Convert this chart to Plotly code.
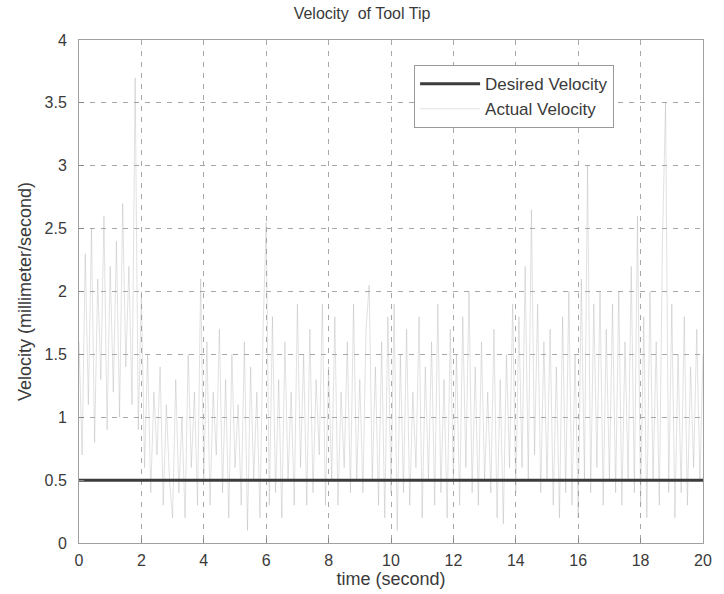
import numpy as np
import plotly.graph_objects as go

time_s = [round(0.1 * i, 1) for i in range(201)]
actual_velocity = [
    1.6, 0.7, 2.3, 1.1, 2.5, 0.8, 2.1, 1.3, 2.6, 0.9, 2.2,
    1.2, 2.4, 1.0, 2.7, 1.4, 2.2, 1.1, 3.7, 0.9, 2.0,
    0.6, 1.5, 0.4, 1.2, 0.7, 1.4, 0.3, 1.1, 0.5, 0.2,
    1.3, 0.4, 1.0, 0.2, 1.5, 0.6, 1.2, 0.3, 2.1, 0.5,
    1.6, 0.3, 1.2, 0.7, 1.7, 0.4, 1.3, 0.2, 1.5, 0.6,
    1.1, 0.3, 1.6, 0.1, 1.4, 0.5, 1.2, 0.2, 1.7, 2.55,
    0.3, 1.8, 0.4, 1.3, 0.2, 1.6, 0.5, 1.2, 0.3, 1.9,
    0.6, 1.5, 0.3, 1.7, 0.4, 1.3, 0.7, 1.9, 0.3, 1.4,
    0.5, 1.8, 0.3, 1.2, 0.6, 1.6, 0.4, 1.9, 0.5, 1.3,
    0.4, 1.7, 2.05, 0.5, 1.4, 0.3, 1.6, 0.2, 1.8, 0.4,
    1.9, 0.1, 1.5, 0.4, 1.7, 0.3, 1.2, 0.6, 1.8, 0.2,
    1.4, 0.5, 1.6, 0.3, 1.9, 0.4, 1.3, 0.2, 1.7, 0.5,
    1.5, 0.3, 1.8, 0.6, 2.0, 0.4, 1.4, 0.3, 1.6, 0.5,
    1.2, 0.4, 1.7, 0.2, 1.3, 0.15, 1.5, 0.6, 1.9, 0.4,
    1.8, 0.6, 2.2, 0.5, 2.65, 0.7, 1.9, 0.4, 1.6, 0.5,
    1.7, 0.3, 1.4, 0.2, 1.8, 0.4, 2.0, 0.3, 1.5, 0.2,
    2.1, 0.5, 3.0, 0.4, 1.9, 0.6, 2.0, 0.3, 1.7, 0.5,
    1.9, 0.4, 2.0, 0.3, 1.6, 0.5, 2.2, 0.4, 2.6, 0.3,
    1.8, 0.2, 2.0, 0.5, 1.6, 0.3, 2.4, 3.5, 0.4, 1.9,
    0.2, 1.5, 0.4, 1.8, 0.3, 1.4, 0.6, 1.7, 0.5, 1.5,
]
desired_t = [0, 20]
desired_velocity = [0.5, 0.5]

x_ticks = [0, 2, 4, 6, 8, 10, 12, 14, 16, 18, 20]
y_ticks = [0, 0.5, 1, 1.5, 2, 2.5, 3, 3.5, 4]

FONT = "Liberation Sans, Arial, sans-serif"
TXT = "#3a3a3a"

fig = go.Figure()
fig.add_trace(go.Scatter(x=time_s, y=actual_velocity, mode="lines",
                         name="Actual Velocity",
                         line=dict(color="rgba(160,160,160,0.45)", width=0.7)))
fig.add_trace(go.Scatter(x=desired_t, y=desired_velocity, mode="lines",
                         name="Desired Velocity",
                         line=dict(color="#3c3c3c", width=3)))

axis_common = dict(showline=True, mirror=True, linecolor="#a0a0a0", linewidth=1,
                   showgrid=True, gridcolor="#a8a8a8", griddash="5px,6px", gridwidth=0.8,
                   ticks="inside", ticklen=5, tickcolor="#888888",
                   zeroline=False, tickfont=dict(family=FONT, size=16, color=TXT))

fig.update_layout(
    width=724, height=594,
    margin=dict(l=79, r=12, t=40, b=50),
    paper_bgcolor="white", plot_bgcolor="white",
    title=dict(text="Velocity  of Tool Tip", x=0.5, xanchor="center",
               y=0.978, yanchor="middle",
               font=dict(family=FONT, size=16, color=TXT)),
    xaxis=dict(range=[0, 20], tickvals=x_ticks, ticklabelstandoff=3,
               title=dict(text="time (second)", standoff=0,
                          font=dict(family=FONT, size=18, color=TXT)),
               **axis_common),
    yaxis=dict(range=[0, 4], tickvals=y_ticks, ticklabelstandoff=8,
               ticktext=[str(v) for v in y_ticks],
               title=dict(text="Velocity (millimeter/second)", standoff=8,
                          font=dict(family=FONT, size=18, color=TXT)),
               **axis_common),
    legend=dict(x=0.537, y=0.95, xanchor="left", yanchor="top",
                bgcolor="white", bordercolor="#999999", borderwidth=1,
                traceorder="reversed",
                font=dict(family=FONT, size=17, color=TXT),
                itemwidth=60, tracegroupgap=4),
    showlegend=True,
)

fig.write_html("out.html")
